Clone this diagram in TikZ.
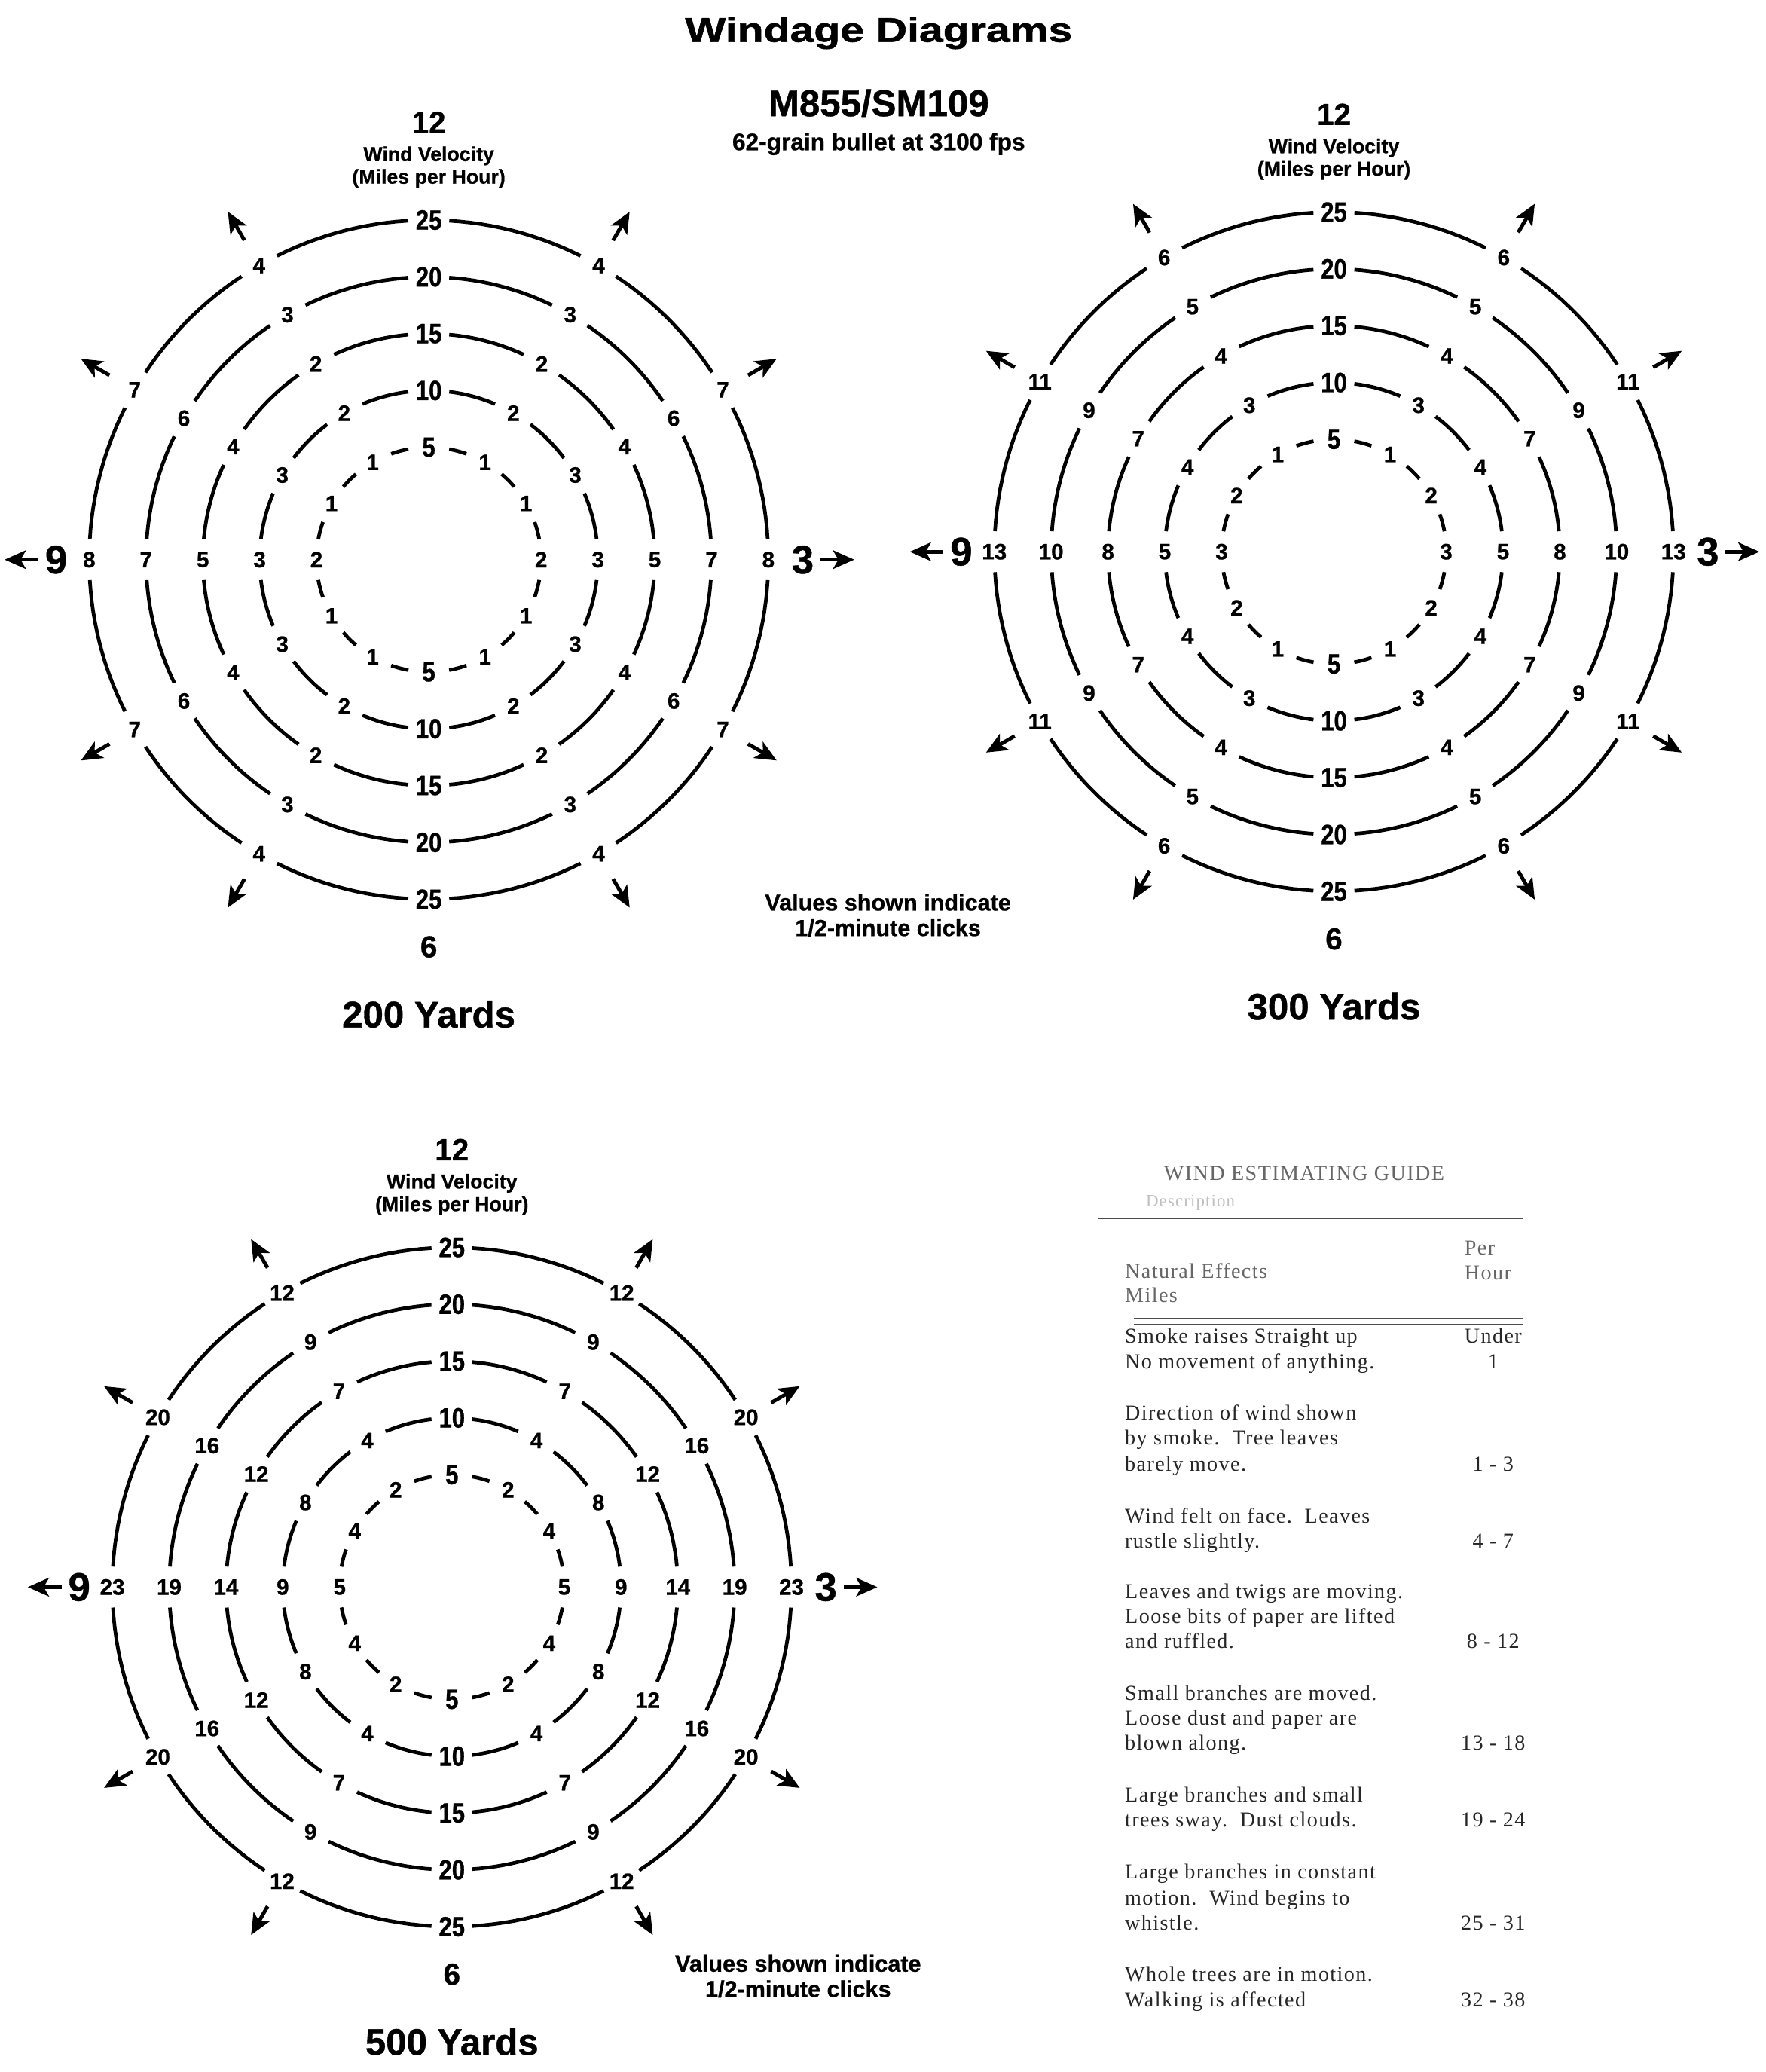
\documentclass[tikz,border=0pt]{standalone}
\usepackage{fontspec}
\setmainfont{Liberation Sans}[BoldFeatures={FakeBold=0.8}]
\newfontfamily\widefont{Liberation Sans}[FakeStretch=1.25, BoldFeatures={FakeBold=1.2}]
\newfontfamily\condfont{Liberation Sans}[FakeStretch=0.84, BoldFeatures={FakeBold=0.8}]
\newfontfamily\guidefont{Liberation Serif}[LetterSpace=5]
\usetikzlibrary{arrows.meta}

\tikzset{
  ring/.style={line width=1.35pt},
  vlab/.style={font=\condfont\fontsize{10.5}{10.5}\selectfont\bfseries, inner sep=0pt},
  slab/.style={font=\fontsize{8.4}{8.4}\selectfont\bfseries, inner sep=0pt},
  windarrow/.style={line width=1.4pt, -{Stealth[length=8pt,width=7pt,inset=2pt]}},
  clocklab/.style={font=\fontsize{11.5}{12}\selectfont\bfseries, inner sep=0pt},
  bigdir/.style={font=\fontsize{15}{15}\selectfont\bfseries, inner sep=0pt, outer sep=2.5pt},
  velo/.style={font=\fontsize{7.6}{8.5}\selectfont\bfseries, align=center, inner sep=0pt},
  yards/.style={font=\fontsize{14}{14}\selectfont\bfseries, inner sep=0pt},
  note/.style={font=\fontsize{8.7}{9.6}\selectfont\bfseries, align=center, inner sep=0pt},
  guide/.style={font=\guidefont\fontsize{8}{9}\selectfont, text=black!85, inner sep=0pt},
  guidehead/.style={font=\guidefont\fontsize{8}{9}\selectfont, text=black!60, inner sep=0pt},
  rule/.style={draw=black!70, line width=0.8pt}
}

% #1 cx, #2 cy, #3 radius, #4 twelve labels, #5 name prefix
\newcommand\windring[5]{%
  \foreach \lab [count=\i from 0] in {#4}{%
    \pgfmathsetmacro\ang{\i*30}%
    \pgfmathtruncatemacro\isv{mod(\i,6)}%
    \ifnum\isv=0 \def\labst{vlab}\else\def\labst{slab}\fi
    \node[\labst] (#5n\i) at ({#1+#3*sin(\ang)},{#2-#3*cos(\ang)}) {\lab};
    \pgfmathsetmacro\ga{\ang+15.5/#3*57.2958}%
    \pgfmathsetmacro\gb{\ang+30-15.5/#3*57.2958}%
    \draw[ring] plot[domain=\ga:\gb,samples=14] ({#1+#3*sin(\x)},{#2-#3*cos(\x)});
  }%
}

% #1 cx, #2 cy, #3 prefix, #4..#8 ring labels, #9 range
\newcommand\windage[9]{%
  \windring{#1}{#2}{85}{#4}{#3a}
  \windring{#1}{#2}{128}{#5}{#3b}
  \windring{#1}{#2}{171}{#6}{#3c}
  \windring{#1}{#2}{214}{#7}{#3d}
  \windring{#1}{#2}{257}{#8}{#3e}
  \foreach \a [count=\k] in {30,60,120,150,210,240,300,330}{%
    \coordinate (#3t\k) at ({#1+279*sin(\a)},{#2-279*cos(\a)});
    \coordinate (#3h\k) at ({#1+304*sin(\a)},{#2-304*cos(\a)});
    \draw[windarrow] (#3t\k) -- (#3h\k);
  }
  \node[clocklab] (#3twelve) at (#1,#2-331) {12};
  \node[velo] (#3velo) at (#1,#2-297) {Wind Velocity\\(Miles per Hour)};
  \node[clocklab] (#3six) at (#1,#2+293) {6};
  \node[bigdir] (#3nine) at (#1-282,#2) {9};
  \node[bigdir] (#3three) at (#1+283,#2) {3};
  \coordinate (#3west) at (#1-321,#2);
  \coordinate (#3east) at (#1+322,#2);
  \draw[windarrow] (#3nine) -- (#3west);
  \draw[windarrow] (#3three) -- (#3east);
  \node[yards] (#3yards) at (#1,#2+344) {#9};
}

\begin{document}
\begin{tikzpicture}[x=0.017537cm, y=-0.017537cm]
\fill[white] (0,0) rectangle (1336,1568);
\useasboundingbox (0,0) rectangle (1336,1568);

% headings
\node[font=\widefont\bfseries\fontsize{13}{13}\selectfont, inner sep=0pt] (title) at (665,25) {Windage Diagrams};
\node[font=\fontsize{14}{14}\selectfont\bfseries, inner sep=0pt] (ammo) at (665,78) {M855/SM109};
\node[font=\fontsize{9}{9}\selectfont\bfseries, inner sep=0pt] (bullet) at (665,109) {62-grain bullet at 3100 fps};

% 200 yards
\windage{324.5}{423.5}{d1}
  {5,1,1,2,1,1,5,1,1,2,1,1}
  {10,2,3,3,3,2,10,2,3,3,3,2}
  {15,2,4,5,4,2,15,2,4,5,4,2}
  {20,3,6,7,6,3,20,3,6,7,6,3}
  {25,4,7,8,7,4,25,4,7,8,7,4}
  {200 Yards}

% 300 yards
\windage{1009.5}{417.5}{d2}
  {5,1,2,3,2,1,5,1,2,3,2,1}
  {10,3,4,5,4,3,10,3,4,5,4,3}
  {15,4,7,8,7,4,15,4,7,8,7,4}
  {20,5,9,10,9,5,20,5,9,10,9,5}
  {25,6,11,13,11,6,25,6,11,13,11,6}
  {300 Yards}

% 500 yards
\windage{342}{1201}{d3}
  {5,2,4,5,4,2,5,2,4,5,4,2}
  {10,4,8,9,8,4,10,4,8,9,8,4}
  {15,7,12,14,12,7,15,7,12,14,12,7}
  {20,9,16,19,16,9,20,9,16,19,16,9}
  {25,12,20,23,20,12,25,12,20,23,20,12}
  {500 Yards}

\node[note] (note1) at (672,692.5) {Values shown indicate\\1/2-minute clicks};
\node[note] (note2) at (604,1495.5) {Values shown indicate\\1/2-minute clicks};

% wind estimating guide
\node[guidehead] (gtitle) at (987,888) {WIND ESTIMATING GUIDE};
\node[font=\guidefont\fontsize{6.5}{7}\selectfont, text=black!25, inner sep=0pt, anchor=base east] (gdesc) at (935,913) {Description};
\coordinate (r1a) at (831,922);
\coordinate (r1b) at (1153,922);
\draw[rule] (r1a) -- (r1b);
\node[guidehead, anchor=base west] (gper) at (1108,949.5) {Per};
\node[guidehead, anchor=base west] (ghour) at (1108,968.5) {Hour};
\node[guidehead, anchor=base west] (gnat) at (851,967.5) {Natural Effects};
\node[guidehead, anchor=base west] (gmiles) at (851,985.5) {Miles};
\coordinate (r2a) at (858,998);
\coordinate (r2b) at (1153,998);
\coordinate (r3a) at (858,1002.5);
\coordinate (r3b) at (1153,1002.5);
\draw[rule, line width=0.6pt] (r2a) -- (r2b);
\draw[rule, line width=0.6pt] (r3a) -- (r3b);

\foreach \yy/\tx [count=\n] in {
  1012/{Smoke raises Straight up},
  1031/{No movement of anything.},
  1070/{Direction of wind shown},
  1089/{by smoke.\ \ Tree leaves},
  1109/{barely move.},
  1148/{Wind felt on face.\ \ Leaves},
  1167/{rustle slightly.},
  1205/{Leaves and twigs are moving.},
  1224/{Loose bits of paper are lifted},
  1243/{and ruffled.},
  1282/{Small branches are moved.},
  1301/{Loose dust and paper are},
  1320/{blown along.},
  1359/{Large branches and small},
  1378/{trees sway.\ \ Dust clouds.},
  1417/{Large branches in constant},
  1437/{motion.\ \ Wind begins to},
  1456/{whistle.},
  1495/{Whole trees are in motion.},
  1514/{Walking is affected}}{
  \node[guide, anchor=base west] (gl\n) at (851,\yy+4.5) {\tx};
}
\foreach \yy/\tx [count=\n] in {
  1012/{Under},
  1031/{1},
  1109/{1 - 3},
  1167/{4 - 7},
  1243/{8 - 12},
  1320/{13 - 18},
  1378/{19 - 24},
  1456/{25 - 31},
  1514/{32 - 38}}{
  \node[guide, anchor=base] (gr\n) at (1130,\yy+4.5) {\tx};
}
\end{tikzpicture}
\end{document}
